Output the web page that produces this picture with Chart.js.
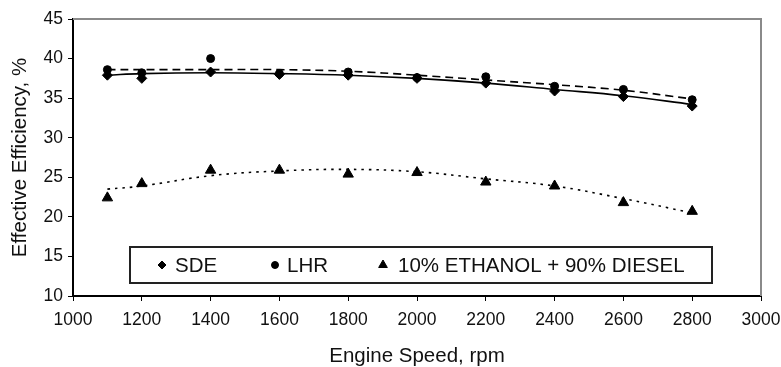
<!DOCTYPE html>
<html><head><meta charset="utf-8">
<script src="https://cdn.jsdelivr.net/npm/chart.js@4/dist/chart.umd.min.js"></script>
<style>html,body{margin:0;padding:0;background:#fff}#wrap{width:781px;height:367px}</style>
</head><body><div id="wrap"><canvas id="c" width="781" height="367"></canvas></div>
<script>
const speeds = [1100, 1200, 1400, 1600, 1800, 2000, 2200, 2400, 2600, 2800];
const sde = [37.9, 37.5, 38.3, 38.0, 37.9, 37.5, 36.9, 35.9, 35.2, 34.0];
const lhr = [38.6, 38.2, 40.0, 38.1, 38.3, 37.6, 37.7, 36.5, 36.1, 34.8];
const eth = [22.4, 24.2, 25.9, 25.9, 25.4, 25.6, 24.4, 23.9, 21.8, 20.7];
const sdeTrend = [37.9, 38.1, 38.2, 38.1, 37.9, 37.5, 36.9, 36.1, 35.3, 34.2];
const lhrTrend = [38.6, 38.6, 38.6, 38.6, 38.4, 37.9, 37.3, 36.7, 36.0, 34.9];
const ethTrend = [23.5, 23.9, 25.2, 25.8, 26.0, 25.7, 24.8, 23.9, 22.3, 20.5];
const seriesNames = ['SDE', 'LHR', '10% ETHANOL + 90% DIESEL'];
const xTicks = [1000, 1200, 1400, 1600, 1800, 2000, 2200, 2400, 2600, 2800, 3000];
const yTicks = [10, 15, 20, 25, 30, 35, 40, 45];

const FONT = "'Liberation Sans', Arial, sans-serif";
const pts = arr => arr.map((v, i) => ({x: speeds[i], y: v}));

const frame = {
  id: 'frame',
  beforeDatasetsDraw(chart) {
    const {ctx, chartArea: a} = chart;
    ctx.save();
    ctx.strokeStyle = '#8a8a8a';
    ctx.lineWidth = 2;
    ctx.beginPath();
    ctx.moveTo(a.left, a.top);
    ctx.lineTo(a.right, a.top);
    ctx.lineTo(a.right, a.bottom);
    ctx.stroke();
    ctx.restore();
  }
};

const legendBox = {
  id: 'legendBox',
  afterDatasetsDraw(chart) {
    const {ctx, chartArea: a} = chart;
    const left = a.left + 57, right = a.left + 639, top = 247, bottom = 283;
    const cy = (top + bottom) / 2;
    ctx.save();
    ctx.fillStyle = '#fff';
    ctx.fillRect(left, top, right - left, bottom - top);
    ctx.strokeStyle = '#222';
    ctx.lineWidth = 2;
    ctx.strokeRect(left, top, right - left, bottom - top);
    const styles = ['rectRot', 'circle', 'triangle'];
    const radii = [4, 3.5, 5];
    const mx = [162, 275, 383];
    const tx = [175, 287, 398];
    ctx.font = '20.5px ' + FONT;
    ctx.textBaseline = 'middle';
    ctx.textAlign = 'left';
    for (let i = 0; i < 3; i++) {
      ctx.fillStyle = '#000';
      ctx.strokeStyle = '#000';
      ctx.lineWidth = 1;
      Chart.helpers.drawPoint(ctx, {pointStyle: styles[i], radius: radii[i], borderWidth: 1}, mx[i], cy);
      ctx.fillStyle = '#111';
      ctx.fillText(seriesNames[i], tx[i], cy + 1);
    }
    ctx.restore();
  }
};

const pointDs = (label, data, style, r) => ({
  label, data: pts(data), showLine: false, pointStyle: style, pointRadius: r,
  pointBackgroundColor: '#000', pointBorderColor: '#000', pointBorderWidth: 1, order: 0
});
const lineDs = (label, data, dash) => ({
  label, data: pts(data), showLine: true, pointRadius: 0, borderColor: '#000',
  borderWidth: 1.6, borderDash: dash, tension: 0.4, fill: false, order: 1
});

new Chart(document.getElementById('c'), {
  type: 'scatter',
  data: {
    datasets: [
      lineDs('SDE trend', sdeTrend, []),
      lineDs('LHR trend', lhrTrend, [8, 5]),
      lineDs('Ethanol trend', ethTrend, [2.5, 5]),
      pointDs(seriesNames[0], sde, 'rectRot', 5),
      pointDs(seriesNames[1], lhr, 'circle', 4),
      pointDs(seriesNames[2], eth, 'triangle', 6)
    ]
  },
  options: {
    responsive: false,
    animation: false,
    layout: {padding: {left: 0, top: 19, right: 20, bottom: 0}},
    plugins: {legend: {display: false}, tooltip: {enabled: false}},
    scales: {
      x: {
        type: 'linear', min: 1000, max: 3000,
        afterBuildTicks(s) { s.ticks = xTicks.map(v => ({value: v})); },
        afterFit(s) { s.height = 71; s.paddingLeft = 0; s.paddingRight = 0; },
        grid: {drawOnChartArea: false, drawTicks: true, tickLength: 5, color: '#000', tickColor: '#000'},
        border: {color: '#000', width: 2},
        ticks: {font: {family: FONT, size: 17.5}, color: '#111', padding: 9, maxRotation: 0, callback: v => String(v)},
        title: {display: true, text: 'Engine Speed, rpm', font: {family: FONT, size: 20.5, lineHeight: 1}, color: '#111', padding: {top: 0, bottom: 0}}
      },
      y: {
        type: 'linear', min: 10, max: 45,
        afterBuildTicks(s) { s.ticks = yTicks.map(v => ({value: v})); },
        afterFit(s) { s.width = 73; s.paddingTop = 0; s.paddingBottom = 0; },
        grid: {drawOnChartArea: false, drawTicks: true, tickLength: 5, color: '#000', tickColor: '#000'},
        border: {color: '#000', width: 2},
        ticks: {font: {family: FONT, size: 17.5}, color: '#111', padding: 5, callback: v => String(v)},
        title: {display: true, text: 'Effective Efficiency, %', font: {family: FONT, size: 20.5, lineHeight: 1}, color: '#111', padding: {top: 10, bottom: 0}}
      }
    }
  },
  plugins: [frame, legendBox]
});
</script></body></html>
